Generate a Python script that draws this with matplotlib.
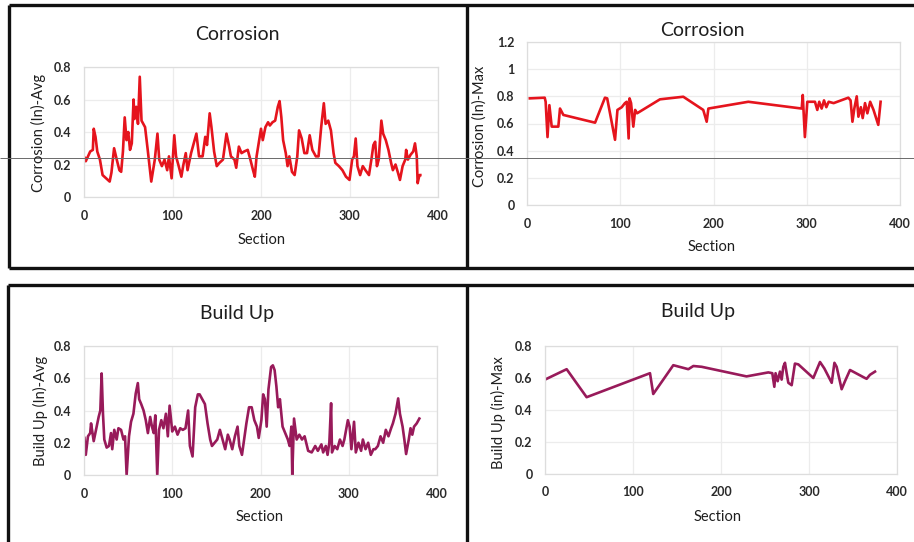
import matplotlib
matplotlib.use("Agg")
import matplotlib.pyplot as plt
from matplotlib.lines import Line2D

# ---------------- data ----------------
corr_avg_x = [1, 2, 7, 10, 11, 13, 15, 18, 21, 25, 29, 31, 34, 37, 40, 42, 44, 46, 48, 50,
              52, 54, 56, 57, 59, 61, 63, 65, 69, 72, 76, 80, 83, 85, 88, 91, 94, 96, 99, 102,
              104, 107, 110, 112, 115, 117, 121, 124, 127, 130, 134, 137, 139, 142, 144, 147, 150, 153, 157, 161,
              164, 166, 170, 172, 175, 178, 181, 185, 188, 191, 193, 195, 198, 200, 202, 205, 208, 210, 213, 216,
              219, 221, 223, 225, 228, 230, 232, 235, 238, 241, 243, 246, 249, 252, 255, 258, 262, 265, 268, 271,
              273, 276, 279, 282, 284, 288, 292, 296, 300, 303, 305, 307, 309, 312, 315, 318, 322, 325, 327, 329,
              331, 333, 335, 336, 338, 341, 344, 347, 349, 352, 355, 357, 360, 363, 364, 366, 369, 372, 374, 376,
              377, 379, 380]
corr_avg_y = [0.24, 0.22, 0.28, 0.29, 0.42, 0.37, 0.28, 0.23, 0.135, 0.115, 0.095, 0.15, 0.30, 0.23, 0.165, 0.155, 0.28, 0.49, 0.35, 0.40,
              0.29, 0.33, 0.60, 0.48, 0.555, 0.45, 0.74, 0.47, 0.43, 0.29, 0.095, 0.23, 0.39, 0.23, 0.19, 0.23, 0.165, 0.25, 0.115, 0.38,
              0.25, 0.19, 0.125, 0.19, 0.27, 0.165, 0.27, 0.33, 0.39, 0.25, 0.25, 0.37, 0.32, 0.515, 0.43, 0.28, 0.19, 0.21, 0.23, 0.39,
              0.31, 0.25, 0.23, 0.18, 0.31, 0.27, 0.28, 0.29, 0.23, 0.165, 0.125, 0.25, 0.35, 0.42, 0.35, 0.43, 0.46, 0.44, 0.46, 0.47,
              0.555, 0.59, 0.49, 0.35, 0.27, 0.19, 0.25, 0.155, 0.135, 0.25, 0.41, 0.36, 0.27, 0.27, 0.38, 0.29, 0.25, 0.25, 0.43, 0.577,
              0.45, 0.47, 0.41, 0.27, 0.21, 0.19, 0.165, 0.125, 0.105, 0.23, 0.25, 0.36, 0.19, 0.135, 0.19, 0.165, 0.135, 0.24, 0.32, 0.34,
              0.19, 0.23, 0.39, 0.47, 0.39, 0.35, 0.29, 0.21, 0.165, 0.20, 0.145, 0.105, 0.19, 0.23, 0.29, 0.23, 0.26, 0.28, 0.33, 0.25,
              0.085, 0.135, 0.135]

corr_max_x = [3, 19, 20, 22, 24, 26.5, 33.6, 35.4, 39, 73, 83.6, 86, 94.4, 97, 101.6, 105, 107, 109, 110, 111.6,
              114, 116, 118, 142.6, 167.6, 189, 192.7, 194.5, 237.3, 294.6, 295.7, 298, 300.6, 308.8, 311.3, 313.4, 316, 318.5, 321, 323.5,
              328.8, 344.6, 347, 349, 351, 353.6, 355.4, 358, 360, 362.5, 365, 368, 371.6, 376.7, 379.2]
corr_max_y = [0.785, 0.79, 0.76, 0.50, 0.735, 0.577, 0.577, 0.71, 0.663, 0.606, 0.79, 0.785, 0.48, 0.70, 0.72, 0.75, 0.76, 0.49, 0.785, 0.75,
              0.577, 0.70, 0.675, 0.778, 0.797, 0.70, 0.613, 0.71, 0.76, 0.71, 0.81, 0.50, 0.76, 0.76, 0.70, 0.76, 0.71, 0.77, 0.72, 0.76,
              0.75, 0.79, 0.77, 0.613, 0.71, 0.80, 0.65, 0.72, 0.64, 0.75, 0.675, 0.76, 0.70, 0.59, 0.76]

build_avg_x = [0.5, 2, 4.5, 7, 8, 11, 13.6, 16.6, 18.5, 20, 21.5, 23, 25.7, 28.3, 30.6, 32, 34.3, 37, 39, 42,
               44.7, 46.5, 48.3, 51, 53.3, 56, 58.6, 61, 62.5, 64.8, 67.5, 70, 72.4, 75, 77, 79, 80.8, 83, 85, 87.6,
               90, 92.8, 95, 97, 100, 103, 106, 109, 112, 115, 118, 120, 123, 126, 129, 131, 134, 137, 140, 143,
               145, 148, 151, 154, 157, 160, 163, 165, 168, 171, 174, 176, 179, 182, 184, 187, 190, 193, 196, 198,
               201, 203, 205, 207, 209, 212, 214, 216, 218, 220, 222, 225, 228, 231, 233, 235, 236, 238, 241, 244,
               247, 250, 254, 258, 262, 265, 269, 271, 274, 276, 278, 280, 281, 284, 287, 290, 293, 295, 297, 299,
               301, 303, 306, 308, 311, 314, 316, 319, 322, 325, 328, 330, 333, 336, 339, 342, 345, 348, 350, 353,
               356, 358, 361, 363, 365, 368, 370, 372, 374, 377, 379, 380]
build_avg_y = [0.23, 0.125, 0.24, 0.26, 0.32, 0.21, 0.28, 0.36, 0.40, 0.63, 0.38, 0.22, 0.17, 0.18, 0.26, 0.16, 0.28, 0.22, 0.29, 0.28,
               0.22, 0.24, 0.0, 0.24, 0.33, 0.38, 0.505, 0.57, 0.47, 0.44, 0.40, 0.34, 0.26, 0.36, 0.30, 0.26, 0.37, 0.0, 0.28, 0.34,
               0.29, 0.38, 0.24, 0.43, 0.27, 0.30, 0.25, 0.29, 0.28, 0.29, 0.40, 0.18, 0.115, 0.42, 0.50, 0.50, 0.47, 0.44, 0.32, 0.22,
               0.18, 0.20, 0.22, 0.28, 0.22, 0.16, 0.25, 0.22, 0.16, 0.24, 0.30, 0.18, 0.125, 0.24, 0.32, 0.42, 0.42, 0.34, 0.30, 0.23,
               0.34, 0.50, 0.47, 0.30, 0.53, 0.67, 0.68, 0.65, 0.55, 0.42, 0.47, 0.30, 0.26, 0.22, 0.18, 0.30, 0.0, 0.35, 0.22, 0.25,
               0.22, 0.24, 0.15, 0.14, 0.18, 0.15, 0.19, 0.14, 0.18, 0.125, 0.20, 0.445, 0.14, 0.18, 0.16, 0.22, 0.18, 0.22, 0.28, 0.34,
               0.30, 0.16, 0.33, 0.14, 0.20, 0.15, 0.22, 0.16, 0.20, 0.125, 0.16, 0.16, 0.18, 0.24, 0.20, 0.28, 0.24, 0.29, 0.32, 0.38,
               0.475, 0.38, 0.30, 0.22, 0.13, 0.22, 0.29, 0.25, 0.30, 0.32, 0.34, 0.35]

build_max_x = [0, 24.6, 47.3, 119.3, 123, 145.8, 162.9, 168.6, 178, 229, 253.8, 258.3, 260.6, 262, 264.4, 267, 268.9, 270.8, 272.7, 274.6,
               276.5, 280.3, 284, 287.9, 304.9, 312.5, 317.4, 325.8, 328.9, 331.4, 337.1, 340.9, 346.6, 363.6, 365.5, 369.3, 375]
build_max_y = [0.59, 0.655, 0.48, 0.63, 0.50, 0.68, 0.655, 0.675, 0.67, 0.61, 0.635, 0.63, 0.545, 0.63, 0.58, 0.64, 0.59, 0.67, 0.695, 0.63,
               0.57, 0.555, 0.69, 0.685, 0.60, 0.70, 0.66, 0.57, 0.695, 0.67, 0.53, 0.58, 0.65, 0.60, 0.595, 0.62, 0.64]

x_ticks = [0, 100, 200, 300, 400]
avg_yticks = [0, 0.2, 0.4, 0.6, 0.8]
avg_yticklabels = ["0", "0.2", "0.4", "0.6", "0.8"]
cmax_yticks = [0, 0.2, 0.4, 0.6, 0.8, 1.0, 1.2]
cmax_yticklabels = ["0", "0.2", "0.4", "0.6", "0.8", "1", "1.2"]

RED = "#e5141d"
PURPLE = "#981a5a"
FONT = "Lato"

W, H = 914, 542
fig = plt.figure(figsize=(W / 100, H / 100), dpi=100)
fig.patch.set_facecolor("white")


def px_axes(x0, y_bottom, x1, y_top):
    return fig.add_axes([x0 / W, 1 - y_bottom / H, (x1 - x0) / W, (y_bottom - y_top) / H])


def style(ax, yticks, ylabels, ymax):
    ax.set_xlim(0, 400)
    ax.set_ylim(0, ymax)
    ax.set_xticks(x_ticks)
    ax.set_xticklabels([str(t) for t in x_ticks])
    ax.set_yticks(yticks)
    ax.set_yticklabels(ylabels)
    ax.tick_params(length=0, pad=9, labelsize=9, labelcolor="#2a2a2a")
    for lab in ax.get_xticklabels() + ax.get_yticklabels():
        lab.set_fontfamily(FONT)
        lab.set_fontweight("bold")
    ax.grid(True, color="#ececec", linewidth=0.9)
    ax.set_axisbelow(True)
    for s in ax.spines.values():
        s.set_color("#dddddd")
        s.set_linewidth(0.9)


def ftext(x, y, s, size, rot=0):
    fig.text(x / W, 1 - y / H, s, ha="center", va="center", fontsize=size,
             family=FONT, rotation=rot, color="#1e1e1e")


LW = 1.9

# top-left
ax1 = px_axes(84, 197, 438, 67)
ax1.plot(corr_avg_x, corr_avg_y, color=RED, lw=LW)
style(ax1, avg_yticks, avg_yticklabels, 0.8)
ftext(237, 34, "Corrosion", 14)
ftext(262, 240, "Section", 10.5)
ftext(38, 133, "Corrosion (In)-Avg", 10.5, 90)

# top-right
ax2 = px_axes(527, 205, 900, 42)
ax2.plot(corr_max_x, corr_max_y, color=RED, lw=LW)
style(ax2, cmax_yticks, cmax_yticklabels, 1.2)
ftext(702, 31, "Corrosion", 14)
ftext(712, 247, "Section", 10.5)
ftext(480, 126, "Corrosion (In)-Max", 10.5, 90)

# bottom-left
ax3 = px_axes(84, 475, 437, 346)
ax3.plot(build_avg_x, build_avg_y, color=PURPLE, lw=LW)
style(ax3, avg_yticks, avg_yticklabels, 0.8)
ftext(237, 313, "Build Up", 14)
ftext(260, 517, "Section", 10.5)
ftext(40, 411, "Build Up (In)-Avg", 10.5, 90)

# bottom-right
ax4 = px_axes(545, 474, 897, 346)
ax4.plot(build_max_x, build_max_y, color=PURPLE, lw=LW)
style(ax4, avg_yticks, avg_yticklabels, 0.8)
ftext(698, 312, "Build Up", 14)
ftext(718, 517, "Section", 10.5)
ftext(498, 413, "Build Up (in)-Max", 10.5, 90)


def fline(xs, ys, lw=2.4, color="#111111"):
    fig.add_artist(Line2D([x / W for x in xs], [1 - y / H for y in ys],
                          transform=fig.transFigure, color=color, lw=lw,
                          solid_capstyle="butt"))


# panel borders (scanned frames)
fline([9, 914], [5, 5])
fline([9, 914], [268, 268])
fline([9, 9], [5, 268])
fline([467, 467], [5, 268])
fline([8, 914], [285, 285])
fline([8, 8], [285, 542])
fline([467, 467], [285, 542])
# faint scan line
fline([0, 914], [158, 158], lw=0.7, color="#6a6a6a")

fig.savefig("out.png", dpi=100, facecolor="white")
